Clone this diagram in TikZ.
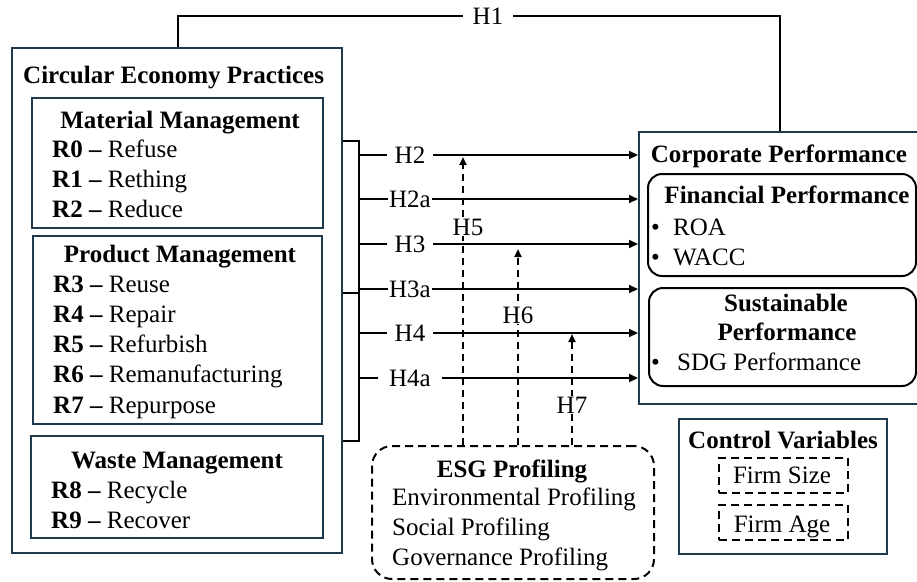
\documentclass[tikz,border=0pt]{standalone}
\usepackage{fontspec}
\setmainfont{LiberationSerif}[Extension=.ttf,UprightFont=*-Regular,BoldFont=*-Bold,ItalicFont=*-Italic,BoldItalicFont=*-BoldItalic]
\usetikzlibrary{arrows.meta}
\definecolor{framecol}{RGB}{30,58,76}
\begin{document}
\begin{tikzpicture}[x=1pt,y=-1pt,
  font=\fontsize{25}{30}\selectfont,
  frame/.style={draw=framecol,line width=2pt,inner sep=0pt,anchor=north west},
  roundbox/.style={draw=black,line width=2pt,rounded corners=14pt,inner sep=0pt,anchor=north west},
  dashbox/.style={draw=black,line width=2pt,dash pattern=on 8pt off 5pt,inner sep=0pt,anchor=north west},
  txt/.style={inner sep=0pt,anchor=base west},
  head/.style={inner sep=0pt,anchor=base,font=\fontsize{25}{30}\selectfont\bfseries},
  hlab/.style={inner ysep=1pt,inner xsep=#1},
  hlab/.default=8pt,
  modlab/.style={inner sep=1pt,fill=white},
  link/.style={line width=2pt},
  arrowlink/.style={line width=2pt,-{Triangle[length=9pt,width=8pt]}},
  modlink/.style={line width=2pt,dash pattern=on 7pt off 5pt,-{Triangle[length=8pt,width=7pt]}},
]
\useasboundingbox (0,0) rectangle (917,581);

% ---------- boxes ----------
\node[frame,minimum width=330pt,minimum height=505pt] (cep) at (11,47) {};
\node[frame,minimum width=291pt,minimum height=130pt] (mat) at (31,97) {};
\node[frame,minimum width=289pt,minimum height=188pt] (prod) at (32,235) {};
\node[frame,minimum width=292pt,minimum height=102pt] (waste) at (30,435) {};
\node[frame,minimum width=282pt,minimum height=272pt] (corp) at (638,131) {};
\node[roundbox,minimum width=268pt,minimum height=102pt] (fin) at (647,173) {};
\node[roundbox,minimum width=267pt,minimum height=98pt] (sus) at (648,287) {};
\node[frame,minimum width=208pt,minimum height=135pt] (ctrl) at (678,418) {};
\node[dashbox,minimum width=129pt,minimum height=35pt] (fsize) at (718,457) {};
\node[dashbox,minimum width=129pt,minimum height=35pt] (fage) at (718,504) {};
\node[dashbox,rounded corners=20pt,minimum width=282pt,minimum height=133pt] (esg) at (371,445) {};

% ---------- circular economy texts ----------
\node[txt] (cepT) at (23,83) {\textbf{Circular Economy Practices}};
\node[head] (matT) at (180,128) {Material Management};
\node[txt] (r0) at (52,157) {\textbf{R0 –} Refuse};
\node[txt] (r1) at (52,187) {\textbf{R1 –} Rething};
\node[txt] (r2) at (52,217) {\textbf{R2 –} Reduce};
\node[head] (prodT) at (180,262) {Product Management};
\node[txt] (r3) at (53,292) {\textbf{R3 –} Reuse};
\node[txt] (r4) at (53,322) {\textbf{R4 –} Repair};
\node[txt] (r5) at (53,352) {\textbf{R5 –} Refurbish};
\node[txt] (r6) at (53,382) {\textbf{R6 –} Remanufacturing};
\node[txt] (r7) at (53,413) {\textbf{R7 –} Repurpose};
\node[head] (wasteT) at (177,468) {Waste Management};
\node[txt] (r8) at (51,498) {\textbf{R8 –} Recycle};
\node[txt] (r9) at (51,528) {\textbf{R9 –} Recover};

% ---------- corporate performance texts ----------
\node[head] (corpT) at (779,162) {Corporate Performance};
\node[head] (finT) at (787,203) {Financial Performance};
\node[txt] (roa) at (651,235) {\makebox[22pt][l]{•}ROA};
\node[txt] (wacc) at (651,265) {\makebox[22pt][l]{•}WACC};
\node[head] (susT) at (786,311) {Sustainable};
\node[head] (susT2) at (787,340) {Performance};
\node[txt] (sdg) at (651,370) {\makebox[26pt][l]{•}SDG Performance};

% ---------- control variables ----------
\node[head] (ctrlT) at (783,448) {Control Variables};
\node[inner sep=0pt,anchor=base] (fsizeT) at (782,483) {Firm Size};
\node[inner sep=0pt,anchor=base] (fageT) at (782,532) {Firm Age};

% ---------- ESG profiling ----------
\node[head] (esgT) at (512,477) {ESG Profiling};
\node[txt] (env) at (392,505) {Environmental Profiling};
\node[txt] (soc) at (392,535) {Social Profiling};
\node[txt] (gov) at (392,565) {Governance Profiling};

% ---------- H1 ----------
\coordinate (h1l) at (178,16);
\coordinate (h1r) at (780,16);
\node[hlab=10pt] (lab1) at (488,16) {H1};
\draw[link] (cep.north -| h1l) -- (h1l) -- (lab1.west);
\draw[link] (lab1.east) -- (h1r) -- (corp.north -| h1r);

% ---------- bracket ----------
\coordinate (bt) at (359,141);
\coordinate (bm) at (359,293);
\coordinate (bb) at (359,441);
\draw[link] (cep.east |- bt) -- (bt) -- (bb) -- (cep.east |- bb);
\draw[link] (cep.east |- bm) -- (bm);

% ---------- direct paths H2 - H4a ----------
\coordinate (s2) at (359,155);
\coordinate (s2a) at (359,199);
\coordinate (s3) at (359,244);
\coordinate (s3a) at (359,289);
\coordinate (s4) at (359,333);
\coordinate (s4a) at (359,378);
\node[hlab] (lab2) at (410,155) {H2};
\node[hlab=0.5pt] (lab2a) at (410,199) {H2a};
\node[hlab] (lab3) at (410,244) {H3};
\node[hlab=0.5pt] (lab3a) at (410,289) {H3a};
\node[hlab] (lab4) at (410,333) {H4};
\node[hlab=11pt] (lab4a) at (410,378) {H4a};
\foreach \s/\l in {s2/lab2,s2a/lab2a,s3/lab3,s3a/lab3a,s4/lab4,s4a/lab4a}{
  \draw[link] (\s) -- (\l.west);
  \draw[arrowlink] (\l.east) -- (corp.west |- \s);
}

% ---------- moderating paths H5 - H7 ----------
\coordinate (m5) at (463,157);
\coordinate (m6) at (518,249);
\coordinate (m7) at (572,334);
\draw[modlink] (esg.north -| m5) -- (m5);
\draw[modlink] (esg.north -| m6) -- (m6);
\draw[modlink] (esg.north -| m7) -- (m7);
\node[modlab] (lab5) at (468,227) {H5};
\node[modlab] (lab6) at (518,315) {H6};
\node[modlab] (lab7) at (572,405) {H7};
\end{tikzpicture}
\end{document}
